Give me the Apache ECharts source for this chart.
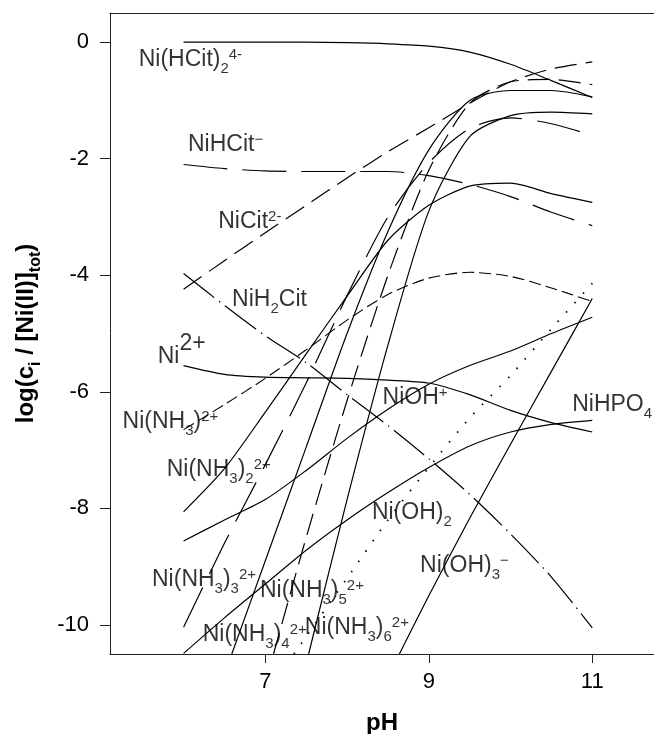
<!DOCTYPE html>
<html>
<head>
<meta charset="utf-8">
<script src="https://cdn.jsdelivr.net/npm/echarts@6/dist/echarts.min.js"></script>
<style>
html, body { margin: 0; padding: 0; background: #fff; }
#main { width: 654px; height: 734px; }
</style>
</head>
<body>
<div id="main"></div>
<script>
// tick values
var pHTicks = [7, 9, 11];
var logTicks = [0, -2, -4, -6, -8, -10];

// species curves, [pH, log(ci/[Ni(II)]tot)]
var niHCit2 = [[6,0],[6.5,0],[7,0],[7.5,0],[8,-0.01],[8.5,-0.03],[9,-0.07],[9.5,-0.17],[10,-0.38],[10.5,-0.66],[11,-0.95]];
var niHCit = [[6,-2.1],[6.5,-2.17],[7,-2.21],[7.5,-2.22],[8,-2.22],[8.5,-2.22],[9,-2.29],[9.5,-2.44],[10,-2.65],[10.5,-2.92],[11,-3.15]];
var niCit = [[6,-4.24],[6.5,-3.75],[7,-3.27],[7.5,-2.8],[8,-2.33],[8.5,-1.88],[9,-1.47],[9.5,-1.05],[10,-0.68],[10.5,-0.46],[11,-0.34]];
var niH2Cit = [[6,-3.97],[6.5,-4.52],[7,-5.04],[7.5,-5.5],[8,-6.05],[8.5,-6.58],[9,-7.15],[9.5,-7.76],[10,-8.44],[10.5,-9.18],[11,-10.05]];
var ni = [[6,-5.55],[6.5,-5.7],[7,-5.75],[7.5,-5.76],[8,-5.77],[8.5,-5.8],[9,-5.85],[9.5,-6.05],[10,-6.32],[10.5,-6.53],[11,-6.69]];
var niNH3_1 = [[6,-6.65],[6.5,-6.22],[7,-5.77],[7.5,-5.28],[8,-4.77],[8.5,-4.33],[9,-4.05],[9.5,-3.95],[10,-4.02],[10.5,-4.22],[11,-4.45]];
var niNH3_2 = [[6,-8.06],[6.5,-7.32],[7,-6.35],[7.5,-5.35],[8,-4.36],[8.5,-3.4],[9,-2.8],[9.5,-2.47],[10,-2.42],[10.5,-2.6],[11,-2.75]];
var niNH3_3 = [[6,-10.04],[6.5,-8.6],[7,-7.25],[7.5,-5.85],[8,-4.35],[8.5,-3.0],[9,-2.07],[9.5,-1.48],[10,-1.3],[10.5,-1.4],[11,-1.6]];
var niNH3_4 = [[6.59,-10.5],[7,-8.9],[7.5,-6.95],[8,-5.0],[8.5,-3.25],[9,-1.85],[9.5,-1.0],[10,-0.83],[10.5,-0.83],[11,-0.94]];
var niNH3_5 = [[7.1,-10.5],[7.5,-8.5],[8,-6.15],[8.5,-4.0],[9,-2.2],[9.5,-1.05],[10,-0.68],[10.5,-0.64],[11,-0.73]];
var niNH3_6 = [[7.53,-10.5],[8,-7.85],[8.5,-5.2],[9,-2.9],[9.5,-1.62],[10,-1.26],[10.5,-1.2],[11,-1.23]];
var niOH = [[6,-8.56],[6.5,-8.2],[7,-7.85],[7.5,-7.35],[8,-6.8],[8.5,-6.3],[9,-5.87],[9.5,-5.55],[10,-5.3],[10.5,-5.0],[11,-4.72]];
var niHPO4 = [[6,-10.49],[6.5,-9.88],[7,-9.3],[7.5,-8.72],[8,-8.2],[8.5,-7.73],[9,-7.3],[9.5,-6.93],[10,-6.69],[10.5,-6.56],[11,-6.49]];
var niOH2 = [[7.35,-10.5],[7.5,-10.2],[8,-9.2],[8.5,-8.2],[9,-7.3],[9.5,-6.45],[10,-5.72],[10.5,-4.92],[11,-4.14]];
var niOH3 = [[8.64,-10.5],[9,-9.5],[9.5,-8.17],[10,-6.9],[10.5,-5.65],[11,-4.4]];

// curve labels (top-left anchor of each text)
var labelText = [
	'{m|Ni(HCit)}{s|2}{p|4-}',
	'{m|NiHCit}{p|\u2212}',
	'{m|NiCit}{p|2-}',
	'{m|NiH}{s|2}{m|Cit}',
	'{b|Ni}{bp|2+}',
	'{m|Ni(NH}{s|3}{m|)}{p|2+}',
	'{m|Ni(NH}{s|3}{m|)}{s|2}{p|2+}',
	'{m|Ni(NH}{s|3}{m|)}{s|3}{p|2+}',
	'{m|Ni(NH}{s|3}{m|)}{s|4}{p|2+}',
	'{m|Ni(NH}{s|3}{m|)}{s|5}{p|2+}',
	'{m|Ni(NH}{s|3}{m|)}{s|6}{p|2+}',
	'{m|NiOH}{p|+}',
	'{m|NiHPO}{s|4}',
	'{m|Ni(OH)}{s|2}',
	'{m|Ni(OH)}{s|3}{p|\u2212}'
];
var labelAt = [
	[5.457,-0.04],[6.06,-1.51],[6.43,-2.82],[6.6,-4.17],[5.69,-4.92],
	[5.26,-6.26],[5.80,-7.08],[5.62,-8.97],[6.24,-9.91],[6.94,-9.16],
	[7.49,-9.79],[8.44,-5.85],[10.76,-5.97],[8.31,-7.82],[8.9,-8.73]
];

var FONT = '"Liberation Sans", Arial, sans-serif';
var INK = '#000';

function curve(data, dash, width) {
	return {
		type: 'line',
		data: data,
		smooth: 0.25,
		symbol: 'none',
		silent: true,
		lineStyle: { color: INK, width: width || 1.2, type: dash || 'solid' }
	};
}

var longDash = [44, 15];
var midDash = [22, 9];
var shortDash = [12, 5];
var dashDot = [39, 6, 1.5, 6];
var dots = [1.5, 11];

var myChart = echarts.init(document.getElementById('main'));
var option = {
	animation: false,
	backgroundColor: '#fff',
	grid: { left: 110, right: 0, top: 13, bottom: 80, outerBoundsMode: 'none', containLabel: false },
	xAxis: [{
		type: 'value', min: 5.1, max: 11.755,
		axisLine: { onZero: false, lineStyle: { color: '#222', width: 1 } },
		axisTick: { customValues: pHTicks, length: 9, lineStyle: { color: '#222' } },
		axisLabel: { customValues: pHTicks, fontSize: 22, color: INK, fontFamily: FONT, margin: 17 },
		splitLine: { show: false },
		name: 'pH', nameLocation: 'middle', nameGap: 57,
		nameTextStyle: { fontSize: 24, fontWeight: 'bold', color: INK, fontFamily: FONT }
	}, {
		// top frame line only
		type: 'value', position: 'top', min: 5.1, max: 11.755,
		axisLine: { onZero: false, lineStyle: { color: '#222', width: 1 } },
		axisTick: { show: false },
		axisLabel: { show: false },
		splitLine: { show: false }
	}],
	yAxis: {
		type: 'value', min: -10.5, max: 0.5,
		axisLine: { onZero: false, lineStyle: { color: '#222', width: 1 } },
		axisTick: { customValues: logTicks, length: 10, lineStyle: { color: '#222' } },
		axisLabel: { customValues: logTicks, fontSize: 22, color: INK, fontFamily: FONT, margin: 21 },
		splitLine: { show: false },
		name: '{t|log(c}{ts|i}{t| / [Ni(II)]}{ts|tot}{t|)}',
		nameLocation: 'middle', nameGap: 70, nameRotate: 90,
		nameTextStyle: {
			color: INK, fontFamily: FONT,
			rich: {
				t: { fontSize: 24, fontWeight: 'bold', lineHeight: 26, verticalAlign: 'top', fontFamily: FONT, color: INK },
				ts: { fontSize: 16, fontWeight: 'bold', lineHeight: 16, padding: [14, 0, 0, 0], verticalAlign: 'top', fontFamily: FONT, color: INK }
			}
		}
	},
	series: [
		curve(niHCit2),
		curve(niHCit, longDash),
		curve(niCit, midDash),
		curve(niH2Cit, dashDot),
		curve(ni),
		curve(niNH3_1, shortDash, 1.1),
		curve(niNH3_2),
		curve(niNH3_3, longDash),
		curve(niNH3_4),
		curve(niNH3_5, midDash),
		curve(niNH3_6),
		curve(niOH),
		curve(niHPO4),
		curve(niOH2, dots, 1.8),
		curve(niOH3),
		{
			type: 'scatter',
			symbol: 'circle',
			symbolSize: 1,
			silent: true,
			z: 10,
			itemStyle: { color: 'rgba(0,0,0,0)' },
			data: labelAt.map(function (c, i) {
				return { value: c, label: { formatter: labelText[i] } };
			}),
			label: {
				show: true,
				position: [0, 0],
				color: INK,
				fontFamily: FONT,
				rich: {
					m: { fontSize: 23, lineHeight: 22, padding: [4, 0, 0, 0], verticalAlign: 'top', fontFamily: FONT, color: INK },
					s: { fontSize: 15, lineHeight: 15, padding: [17, 0, 0, 0], verticalAlign: 'top', fontFamily: FONT, color: INK },
					p: { fontSize: 15, lineHeight: 15, padding: [3, 0, 0, 0], verticalAlign: 'top', fontFamily: FONT, color: INK },
					b: { fontSize: 23, lineHeight: 22, padding: [17, 0, 0, 0], verticalAlign: 'top', fontFamily: FONT, color: INK },
					bp: { fontSize: 23, lineHeight: 22, padding: [4, 0, 0, 0], verticalAlign: 'top', fontFamily: FONT, color: INK }
				}
			}
		}
	]
};
myChart.setOption(option);
</script>
</body>
</html>
